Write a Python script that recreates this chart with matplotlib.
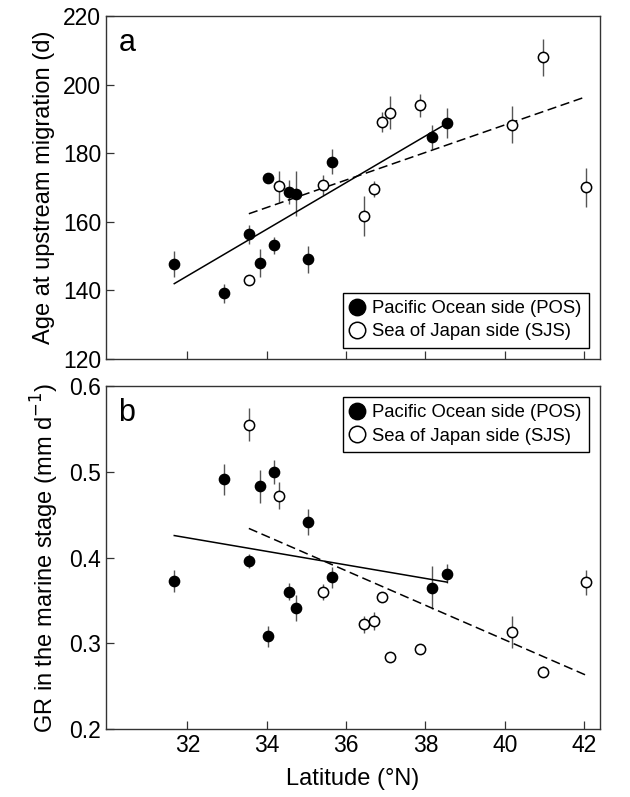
import numpy as np
import matplotlib
matplotlib.use('Agg')
import matplotlib.pyplot as plt

plt.rcParams['font.family'] = ['Liberation Sans', 'DejaVu Sans']

# latitude of each river (deg N)
lat_pos = [31.67, 32.92, 33.56, 33.82, 34.04, 34.18, 34.57, 34.73, 35.04, 35.65, 38.17, 38.55]
lat_sjs = [33.55, 34.31, 35.43, 36.46, 36.71, 36.91, 37.12, 37.86, 40.19, 40.97, 42.05]

# a: age at upstream migration (d), mean and error
age_pos = [147.7, 139.1, 156.3, 147.9, 172.8, 153.1, 168.7, 168.2, 149.1, 177.5, 184.8, 188.9]
age_pos_err = [3.9, 2.8, 2.7, 4.1, 1.0, 2.5, 3.4, 6.6, 3.9, 3.7, 3.5, 4.4]
age_sjs = [143.1, 170.3, 170.6, 161.7, 169.6, 189.1, 191.8, 193.9, 188.3, 207.9, 170.0]
age_sjs_err = [1.0, 4.5, 2.9, 5.8, 2.4, 2.8, 4.9, 3.4, 5.3, 5.3, 5.8]

# b: growth rate in the marine stage (mm/d)
gr_pos = [0.373, 0.491, 0.396, 0.483, 0.308, 0.500, 0.360, 0.341, 0.441, 0.377, 0.365, 0.381]
gr_pos_err = [0.013, 0.018, 0.008, 0.019, 0.012, 0.014, 0.010, 0.015, 0.015, 0.012, 0.025, 0.011]
gr_sjs = [0.555, 0.472, 0.360, 0.322, 0.326, 0.354, 0.284, 0.293, 0.313, 0.267, 0.371]
gr_sjs_err = [0.019, 0.016, 0.009, 0.010, 0.011, 0.005, 0.004, 0.006, 0.019, 0.006, 0.015]

labels = ['Pacific Ocean side (POS)', 'Sea of Japan side (SJS)']


def fit_line(ax, x, y, ls):
    k, b = np.polyfit(x, y, 1)
    xx = np.array([min(x), max(x)])
    ax.plot(xx, k*xx + b, color='k', ls=ls, lw=1.1, zorder=2,
            dashes=(6, 3) if ls == '--' else (None, None))


def panel(ax, yp, yp_err, ys, ys_err, letter, leg_loc):
    ax.errorbar(lat_pos, yp, yerr=yp_err, fmt='none', ecolor='#555555', elinewidth=1.0, zorder=1)
    ax.errorbar(lat_sjs, ys, yerr=ys_err, fmt='none', ecolor='#555555', elinewidth=1.0, zorder=1)
    fit_line(ax, lat_pos, yp, '-')
    fit_line(ax, lat_sjs, ys, '--')
    ax.plot(lat_pos, yp, 'o', ms=7.4, mfc='k', mec='k', ls='none', zorder=3, label=labels[0])
    ax.plot(lat_sjs, ys, 'o', ms=7.4, mfc='white', mec='k', mew=1.1, ls='none', zorder=3, label=labels[1])
    leg = ax.legend(loc=leg_loc, fontsize=13.3, markerscale=1.6, fancybox=False, framealpha=1,
                    edgecolor='k', handlelength=0.8, handletextpad=0.4, borderpad=0.4,
                    labelspacing=0.35, borderaxespad=0.6)
    leg.get_frame().set_linewidth(1.0)
    ax.text(0.025, 0.965, letter, transform=ax.transAxes, fontsize=22, va='top', ha='left')
    ax.set_xlim(29.95, 42.4)
    ax.set_xticks([32, 34, 36, 38, 40, 42])
    ax.tick_params(direction='in', length=6, width=0.9, labelsize=16.5, color='#333333',
                   top=False, right=False)
    for s in ax.spines.values():
        s.set_color('#333333')
        s.set_linewidth(1.0)


fig = plt.figure(figsize=(6.3, 7.97), dpi=100)
ax1 = fig.add_axes([0.1683, 0.5496, 0.784, 0.4304])
ax2 = fig.add_axes([0.1683, 0.0853, 0.784, 0.4304])

panel(ax1, age_pos, age_pos_err, age_sjs, age_sjs_err, 'a', 'lower right')
ax1.set_ylim(120, 220)
ax1.set_yticks([120, 140, 160, 180, 200, 220])
ax1.tick_params(labelbottom=False)
ax1.set_ylabel('Age at upstream migration (d)', fontsize=17, labelpad=6)

panel(ax2, gr_pos, gr_pos_err, gr_sjs, gr_sjs_err, 'b', 'upper right')
ax2.set_ylim(0.2, 0.6)
ax2.set_yticks([0.2, 0.3, 0.4, 0.5, 0.6])
ax2.set_ylabel('GR in the marine stage (mm d$^{-1}$)', fontsize=17, labelpad=6)
ax2.set_xlabel('Latitude (°N)', fontsize=17, labelpad=8)

fig.savefig('out.png', dpi=100)
